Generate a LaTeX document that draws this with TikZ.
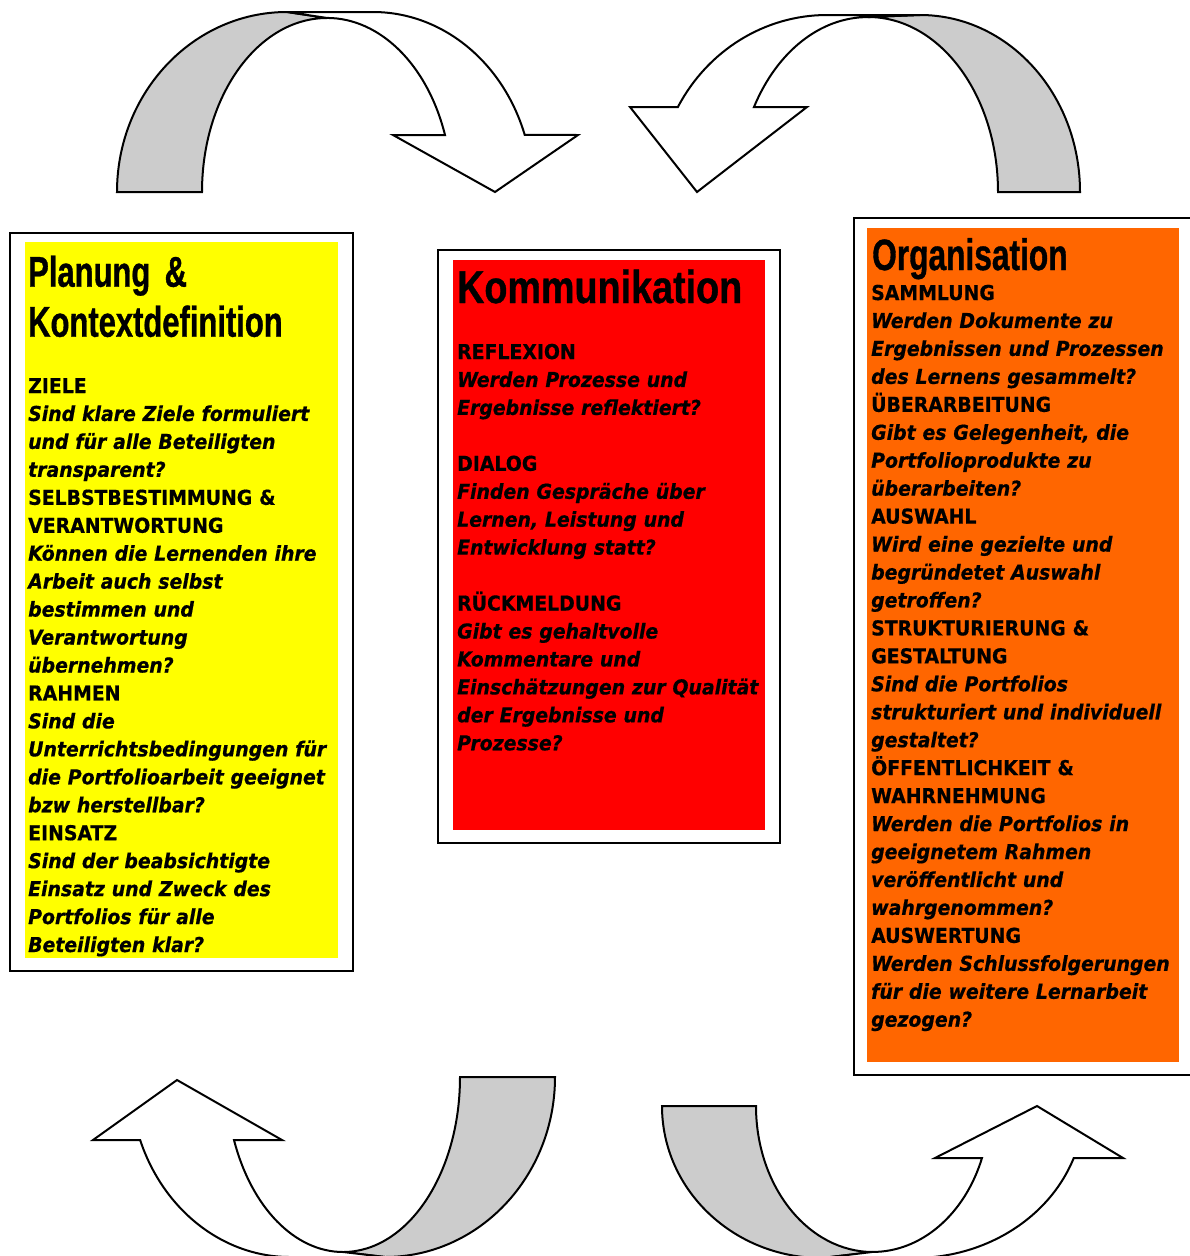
\documentclass[tikz,border=0pt]{standalone}
\usepackage{fontspec}
\newfontfamily\boxfont[FakeStretch=0.92, FakeBold=0.6]{DejaVu Sans}
\newfontfamily\narrowtitle[FakeStretch=0.72, FakeBold=0.8]{Liberation Sans}
\newfontfamily\widetitle[FakeStretch=0.82, FakeBold=0.8]{Liberation Sans}
\newcommand{\rubrik}[1]{{\upshape #1}}
\definecolor{bandgray}{HTML}{CCCCCC}
\definecolor{planyellow}{HTML}{FFFF00}
\definecolor{kommred}{HTML}{FF0000}
\definecolor{orgorange}{HTML}{FF6600}

\begin{document}
\begin{tikzpicture}[x=1pt, y=-1pt,
    band/.style={draw=black, line width=2pt, line join=miter},
    backband/.style={band, fill=bandgray},
    frontband/.style={band, fill=white},
    frame/.style={draw=black, line width=2.5pt, fill=white},
    heading/.style={anchor=base west, inner sep=0pt, text width=330pt, align=left,
        font=\narrowtitle\bfseries\fontsize{43}{50}\selectfont},
    questions/.style={anchor=base west, inner sep=0pt, text width=345pt, align=left,
        font=\boxfont\bfseries\itshape\fontsize{20.5}{27.95}\selectfont}]

    \useasboundingbox (0,0) rectangle (1190,1256);
    \clip (0,0) rectangle (1190,1256);
    \fill[white] (0,0) rectangle (1190,1256);

    \draw[backband] (117,192) arc[start angle=180, end angle=270, x radius=170, y radius=180]
        -- (327,18) arc[start angle=270, end angle=180, x radius=125, y radius=174] -- cycle;
    \draw[frontband] (287,12) -- (373,12) arc[start angle=270, end angle=341.5, x radius=160, y radius=180]
        -- (578,135) -- (495,192) -- (393,135) -- (445,135)
        arc[start angle=340.9, end angle=270, x radius=125, y radius=174] -- cycle;

    \draw[backband] (1080,192) arc[start angle=360, end angle=270, x radius=160, y radius=177]
        -- (868,17) arc[start angle=270, end angle=360, x radius=130, y radius=175] -- cycle;
    \draw[frontband] (920,15) -- (827,15) arc[start angle=270, end angle=208.7, x radius=170, y radius=177]
        -- (630,107) -- (697,192) -- (807,107) -- (754,107)
        arc[start angle=209.1, end angle=270, x radius=130, y radius=175] -- cycle;

    \draw[backband] (555,1077) arc[start angle=0, end angle=90, x radius=170, y radius=180]
        -- (343,1252) arc[start angle=90, end angle=0, x radius=117, y radius=175] -- cycle;
    \draw[frontband] (385,1257) -- (290,1257) arc[start angle=90, end angle=159.5, x radius=160, y radius=180]
        -- (93,1140) -- (177,1080) -- (282,1140) -- (234,1140)
        arc[start angle=158.9, end angle=90, x radius=117, y radius=175] -- cycle;

    \draw[backband] (662,1106) arc[start angle=180, end angle=90, x radius=160, y radius=152]
        -- (873,1252) arc[start angle=90, end angle=180, x radius=117, y radius=146] -- cycle;
    \draw[frontband] (822,1258) -- (914,1258) arc[start angle=90, end angle=20, x radius=170, y radius=152]
        -- (1123,1158) -- (1037,1106) -- (935,1158) -- (982,1158)
        arc[start angle=20.9, end angle=90, x radius=117, y radius=146] -- cycle;

    \draw[frame] (10,233) rectangle (353,971);
    \fill[planyellow] (25,242) rectangle (338,958);
    \node[heading] (plantitle) at (28,286.7) {Planung \&\\Kontextdefinition};
    \node[questions] (planfragen) at (28,393) {\rubrik{ZIELE}\\
        Sind klare Ziele formuliert\\
        und für alle Beteiligten\\
        transparent?\\
        \rubrik{SELBSTBESTIMMUNG \&}\\
        \rubrik{VERANTWORTUNG}\\
        Können die Lernenden ihre\\
        Arbeit auch selbst\\
        bestimmen und\\
        Verantwortung\\
        übernehmen?\\
        \rubrik{RAHMEN}\\
        Sind die\\
        Unterrichtsbedingungen für\\
        die Portfolioarbeit geeignet\\
        bzw herstellbar?\\
        \rubrik{EINSATZ}\\
        Sind der beabsichtigte\\
        Einsatz und Zweck des\\
        Portfolios für alle\\
        Beteiligten klar?};

    \draw[frame] (438,250) rectangle (780,843);
    \fill[kommred] (453,260) rectangle (765,830);
    \node[heading, font=\widetitle\bfseries\fontsize{46}{50}\selectfont] (kommtitle) at (457,303) {Kommunikation};
    \node[questions] (kommfragen) at (457,359) {\rubrik{REFLEXION}\\
        Werden Prozesse und\\
        Ergebnisse reflektiert?\\[27.95pt]
        \rubrik{DIALOG}\\
        Finden Gespräche über\\
        Lernen, Leistung und\\
        Entwicklung statt?\\[27.95pt]
        \rubrik{RÜCKMELDUNG}\\
        Gibt es gehaltvolle\\
        Kommentare und\\
        Einschätzungen zur Qualität\\
        der Ergebnisse und\\
        Prozesse?};

    \draw[frame] (854,218) rectangle (1200,1075);
    \fill[orgorange] (867,228) rectangle (1179,1062);
    \node[heading, font=\narrowtitle\bfseries\fontsize{44}{50}\selectfont] (orgtitle) at (872,270) {Organisation};
    \node[questions] (orgfragen) at (871,300) {\rubrik{SAMMLUNG}\\
        Werden Dokumente zu\\
        Ergebnissen und Prozessen\\
        des Lernens gesammelt?\\
        \rubrik{ÜBERARBEITUNG}\\
        Gibt es Gelegenheit, die\\
        Portfolioprodukte zu\\
        überarbeiten?\\
        \rubrik{AUSWAHL}\\
        Wird eine gezielte und\\
        begründetet Auswahl\\
        getroffen?\\
        \rubrik{STRUKTURIERUNG \&}\\
        \rubrik{GESTALTUNG}\\
        Sind die Portfolios\\
        strukturiert und individuell\\
        gestaltet?\\
        \rubrik{ÖFFENTLICHKEIT \&}\\
        \rubrik{WAHRNEHMUNG}\\
        Werden die Portfolios in\\
        geeignetem Rahmen\\
        veröffentlicht und\\
        wahrgenommen?\\
        \rubrik{AUSWERTUNG}\\
        Werden Schlussfolgerungen\\
        für die weitere Lernarbeit\\
        gezogen?};
\end{tikzpicture}
\end{document}
